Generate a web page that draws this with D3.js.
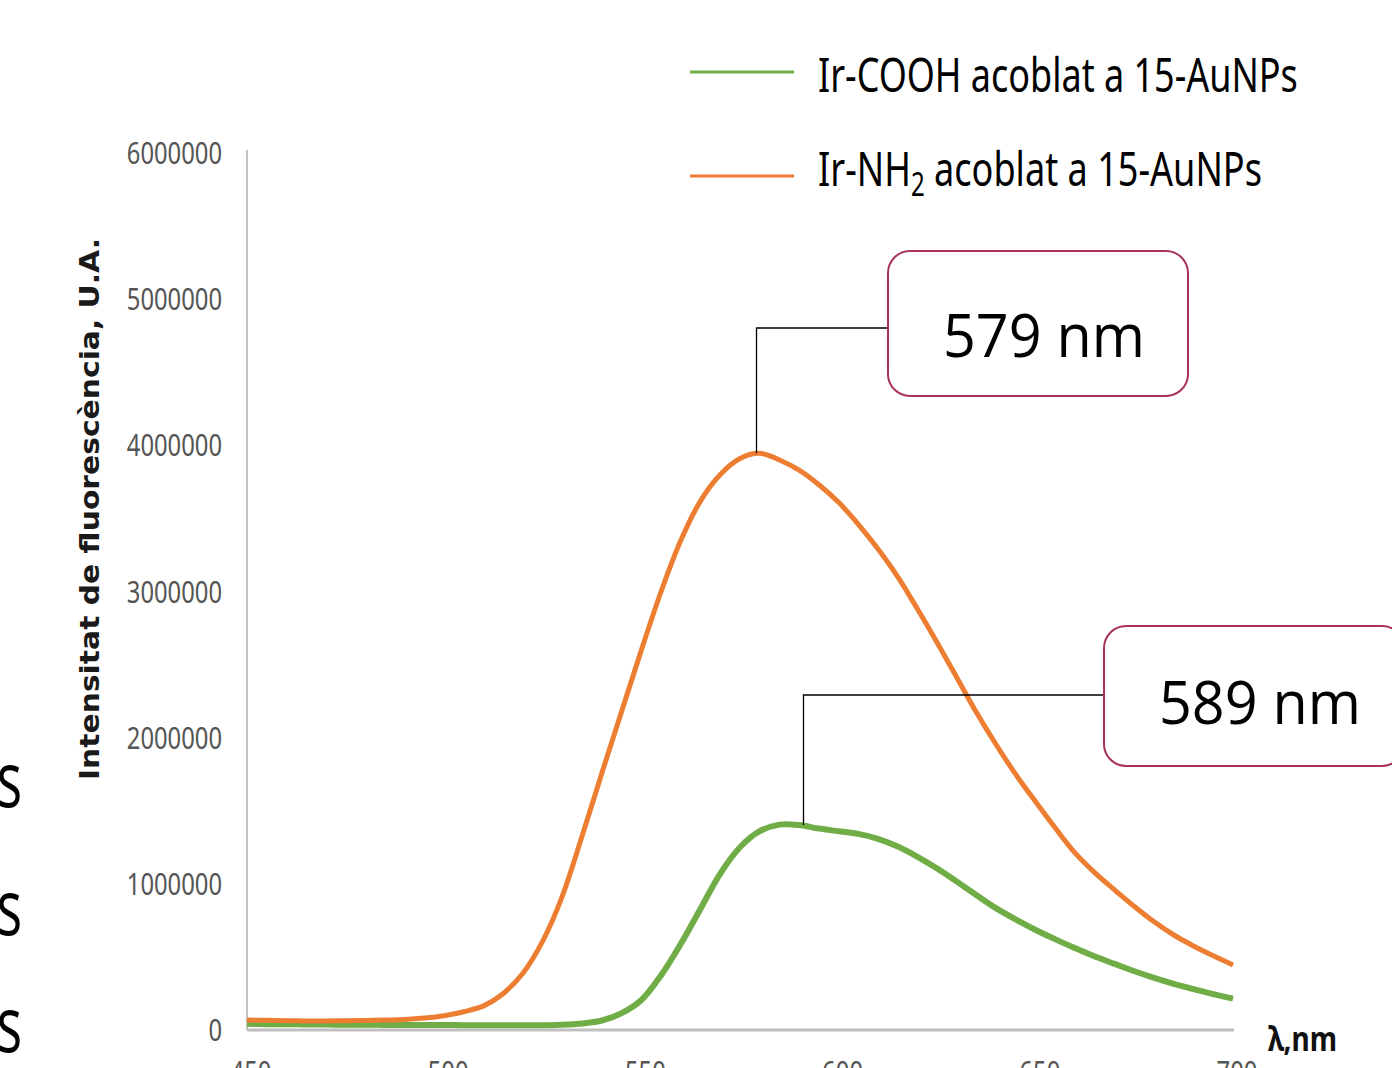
<!DOCTYPE html>
<html>
<head>
<meta charset="utf-8">
<script src="https://cdn.jsdelivr.net/npm/d3@7"></script>
<style>
  body { margin: 0; background: #fff; }
  svg { display: block; }
</style>
</head>
<body>
<svg id="chart" width="1392" height="1068"></svg>
<script>
// wavelengths (nm), shared by both spectra
const wavelengths = d3.range(450, 701, 5);

// Ir-NH2 coupled to 15-AuNPs (orange)
const nh2Values = [
  68000, 66000, 64000, 62000, 62000, 63000, 65000, 68000, 72000, 82000,
  98000, 125000, 165000, 250000, 390000, 610000, 920000, 1330000, 1760000, 2180000,
  2600000, 3000000, 3350000, 3620000, 3800000, 3910000, 3945000, 3900000, 3830000, 3730000,
  3610000, 3460000, 3290000, 3100000, 2880000, 2650000, 2410000, 2170000, 1950000, 1745000,
  1560000, 1380000, 1210000, 1075000, 958000, 845000, 740000, 650000, 575000, 508000,
  445000
];

// Ir-COOH coupled to 15-AuNPs (green)
const coohValues = [
  42000, 40000, 39000, 38000, 37000, 36000, 36000, 35000, 35000, 34000,
  34000, 33000, 33000, 32000, 32000, 33000, 36000, 45000, 65000, 115000,
  205000, 375000, 590000, 830000, 1070000, 1250000, 1360000, 1405000, 1402000, 1378000,
  1360000, 1342000, 1308000, 1255000, 1185000, 1105000, 1015000, 922000, 832000, 755000,
  684000, 620000, 560000, 503000, 452000, 402000, 357000, 316000, 280000, 246000,
  215000
];

const seriesNames = ["Ir-COOH acoblat a 15-AuNPs", "Ir-NH2 acoblat a 15-AuNPs"];
const yTicks = [0, 1000000, 2000000, 3000000, 4000000, 5000000, 6000000];
const xTicks = [450, 500, 550, 600, 650, 700];

// peak callouts: anchor wavelength, anchor value, label
const calloutNm = [579, 591];
const calloutValues = [3945000, 1402000];
const calloutLabels = ["579 nm", "589 nm"];

const green = "#70ad47";
const orange = "#ed7d31";
const boxColor = "#a8325e";

const svg = d3.select("#chart");
svg.append("rect").attr("width", 1392).attr("height", 1068).attr("fill", "#fff");

const x = d3.scaleLinear().domain([450, 700]).range([247, 1233]);
const y = d3.scaleLinear().domain([0, 6000000]).range([1030, 153]);

// axis lines
svg.append("line")
  .attr("x1", x(450)).attr("x2", x(450))
  .attr("y1", y(6000000) - 3).attr("y2", y(0))
  .attr("stroke", "#c3c3c3").attr("stroke-width", 2);

svg.append("line")
  .attr("x1", x(450)).attr("x2", x(700) + 1)
  .attr("y1", y(0)).attr("y2", y(0))
  .attr("stroke", "#bfbfbf").attr("stroke-width", 3);

// y tick labels
svg.append("g")
  .selectAll("text")
  .data(yTicks)
  .enter()
  .append("text")
  .text(d => d3.format("d")(d))
  .attr("x", 222)
  .attr("y", d => y(d) + 11)
  .attr("text-anchor", "end")
  .attr("fill", "#555")
  .attr("font-size", "30px")
  .attr("font-family", '"Noto Sans", sans-serif')
  .attr("textLength", d => String(d).length * 13.6)
  .attr("lengthAdjust", "spacingAndGlyphs");

// x tick labels (the reference crops them at the bottom edge)
svg.append("g")
  .selectAll("text")
  .data(xTicks)
  .enter()
  .append("text")
  .text(d => d)
  .attr("x", d => x(d) + 4)
  .attr("y", 1083)
  .attr("text-anchor", "middle")
  .attr("fill", "#555")
  .attr("font-size", "30px")
  .attr("font-family", '"Noto Sans", sans-serif')
  .attr("textLength", 41)
  .attr("lengthAdjust", "spacingAndGlyphs");

// axis titles
svg.append("text")
  .text("Intensitat de fluorescència, U.A.")
  .attr("transform", "translate(99,509) rotate(-90)")
  .attr("text-anchor", "middle")
  .attr("font-size", "27px")
  .attr("font-weight", "bold")
  .attr("font-family", '"DejaVu Sans", sans-serif')
  .attr("fill", "#1a1a1a")
  .attr("textLength", 542)
  .attr("lengthAdjust", "spacingAndGlyphs");

svg.append("text")
  .text("λ,nm")
  .attr("x", 1268)
  .attr("y", 1051)
  .attr("font-size", "34px")
  .attr("font-weight", "bold")
  .attr("font-family", '"Noto Sans", sans-serif')
  .attr("fill", "#111")
  .attr("textLength", 69)
  .attr("lengthAdjust", "spacingAndGlyphs");

// spectra
const line = d3.line()
  .x((d, i) => x(wavelengths[i]))
  .y(d => y(d))
  .curve(d3.curveCatmullRom.alpha(0.5));

svg.append("path")
  .datum(coohValues)
  .attr("d", line)
  .attr("fill", "none")
  .attr("stroke", green)
  .attr("stroke-width", 6);

svg.append("path")
  .datum(nh2Values)
  .attr("d", line)
  .attr("fill", "none")
  .attr("stroke", orange)
  .attr("stroke-width", 5);

// callouts
const boxes = [
  { bx: 888, by: 251, w: 300, h: 145, ly: 328 },
  { bx: 1104, by: 626, w: 300, h: 140, ly: 695 }
];

calloutNm.forEach((nm, i) => {
  const b = boxes[i];
  const ax = Math.round(x(nm)) + 0.5;
  svg.append("path")
    .attr("d", `M${ax},${y(calloutValues[i])} V${b.ly} H${b.bx}`)
    .attr("fill", "none")
    .attr("stroke", "#000")
    .attr("stroke-width", 1.3);
  svg.append("rect")
    .attr("x", b.bx).attr("y", b.by)
    .attr("width", b.w).attr("height", b.h)
    .attr("rx", 22)
    .attr("fill", "#fff")
    .attr("stroke", boxColor)
    .attr("stroke-width", 2);
  svg.append("text")
    .text(calloutLabels[i])
    .attr("x", b.bx + 156)
    .attr("y", b.ly + 29)
    .attr("text-anchor", "middle")
    .attr("font-size", "60px")
    .attr("font-family", '"Open Sans", sans-serif')
    .attr("fill", "#000")
    .attr("textLength", 202)
    .attr("lengthAdjust", "spacingAndGlyphs");
});

// legend
const legend = svg.append("g");
const legendRows = [
  { color: green, y: 72, width: 480 },
  { color: orange, y: 176, width: 444 }
];

legendRows.forEach((r, i) => {
  legend.append("line")
    .attr("x1", 690).attr("x2", 794)
    .attr("y1", r.y).attr("y2", r.y)
    .attr("stroke", r.color)
    .attr("stroke-width", 3);
  const t = legend.append("text")
    .attr("x", 0)
    .attr("y", 0)
    .attr("font-size", "48px")
    .attr("font-family", '"Noto Sans", sans-serif')
    .attr("fill", "#000");
  if (i === 0) {
    t.text(seriesNames[0]);
  } else {
    t.append("tspan").text("Ir-NH");
    t.append("tspan").text("2").attr("font-size", "32px").attr("dy", 10);
    t.append("tspan").text(" acoblat a 15-AuNPs").attr("dy", -10);
  }
  const k = r.width / t.node().getComputedTextLength();
  t.attr("transform", `translate(818,${i === 0 ? 92 : 186}) scale(${k},1)`);
});

// cut-off text from the left of the slide
svg.append("g")
  .selectAll("text")
  .data([807, 935, 1052])
  .enter()
  .append("text")
  .text("s")
  .attr("transform", d => `translate(22,${d}) scale(0.7,1)`)
  .attr("text-anchor", "end")
  .attr("font-size", "76px")
  .attr("font-family", '"Open Sans", sans-serif')
  .attr("fill", "#000");
</script>
</body>
</html>
